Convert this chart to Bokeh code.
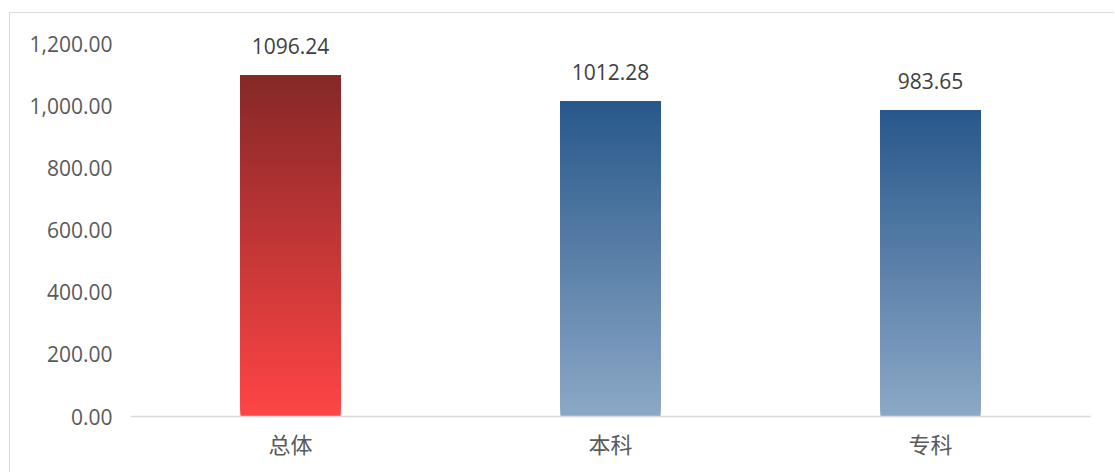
from bokeh.plotting import figure
from bokeh.models import NumeralTickFormatter, FixedTicker, ColumnDataSource, Range1d, FactorRange
from bokeh.core.properties import value
from bokeh.embed import file_html
from bokeh.resources import INLINE

categories = ["总体", "本科", "专科"]
values = [1096.24, 1012.28, 983.65]
labels = ["1096.24", "1012.28", "983.65"]
y_ticks = [0, 200, 400, 600, 800, 1000, 1200]

# gradient colours (top, bottom) per bar
top_colors = [(0x86, 0x28, 0x28), (0x28, 0x58, 0x8B), (0x28, 0x58, 0x8B)]
bottom_colors = [(0xFF, 0x45, 0x45), (0x8C, 0xA8, 0xC6), (0x8C, 0xA8, 0xC6)]

# frame spans from y=18 to y=416 px; 1200 sits at y=43 px
p = figure(x_range=FactorRange(*categories, range_padding=0), y_range=Range1d(0, 1200 * 398 / 373),
           width=1105, height=460, output_backend="svg", toolbar_location=None,
           min_border_left=120, min_border_right=25, min_border_top=5, min_border_bottom=57)
p.styles = {"margin-top": "12px", "margin-left": "9px",
            "border-left": "1px solid #d9d9d9", "border-top": "1px solid #d9d9d9"}

N = 150
xs, bots, tops, cols = [], [], [], []
for c, v, tc, bc in zip(categories, values, top_colors, bottom_colors):
    for i in range(N):
        t = (i + 0.5) / N  # 0 bottom -> 1 top
        r = round(bc[0] + (tc[0] - bc[0]) * t)
        g = round(bc[1] + (tc[1] - bc[1]) * t)
        b = round(bc[2] + (tc[2] - bc[2]) * t)
        xs.append(c)
        bots.append(v * i / N)
        tops.append(v)
        cols.append("#%02x%02x%02x" % (r, g, b))
src = ColumnDataSource(dict(x=xs, bottom=bots, top=tops, color=cols))
p.vbar(x="x", bottom="bottom", top="top", width=0.3125, fill_color="color",
       line_color=None, source=src)

lsrc = ColumnDataSource(dict(x=categories, y=values, t=labels))
p.text(x="x", y="y", text="t", source=lsrc, y_offset=-22, text_align="center",
       text_baseline="bottom", text_font=value("Open Sans"), text_font_size="21px",
       text_color="#404040")

p.xgrid.visible = False
p.ygrid.visible = False
p.outline_line_color = None

p.yaxis.ticker = FixedTicker(ticks=y_ticks)
p.yaxis.formatter = NumeralTickFormatter(format="0,0.00")
p.yaxis.axis_line_color = None
p.yaxis.major_tick_line_color = None
p.yaxis.minor_tick_line_color = None
p.yaxis.major_label_text_font = "Open Sans"
p.yaxis.major_label_text_font_size = "21px"
p.yaxis.major_label_text_color = "#595959"
p.yaxis.major_label_standoff = 12

p.xaxis.axis_line_color = "#d9d9d9"
p.xaxis.axis_line_width = 1.5
p.xaxis.major_tick_line_color = None
p.xaxis.minor_tick_line_color = None
p.xaxis.major_label_text_font = "Noto Sans CJK SC"
p.xaxis.major_label_text_font_size = "22px"
p.xaxis.major_label_text_color = "#595959"
p.xaxis.major_label_standoff = 4

open("out.html", "w").write(file_html(p, INLINE))
